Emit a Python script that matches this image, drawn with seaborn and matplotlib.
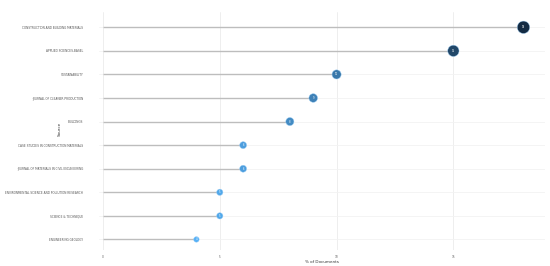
import numpy as np
import matplotlib.pyplot as plt
import pandas as pd
import seaborn as sns
from matplotlib.colors import LinearSegmentedColormap

# Daten
sources = ['CONSTRUCTION AND BUILDING MATERIALS', 'APPLIED SCIENCES-BASEL', 'SUSTAINABILITY',
           'JOURNAL OF CLEANER PRODUCTION', 'BUILDINGS', 'CASE STUDIES IN CONSTRUCTION MATERIALS',
           'JOURNAL OF MATERIALS IN CIVIL ENGINEERING', 'ENVIRONMENTAL SCIENCE AND POLLUTION RESEARCH',
           'SCIENCE & TECHNIQUE', 'ENGINEERING GEOLOGY']
percent = [18, 15, 10, 9, 8, 6, 6, 5, 5, 4]
x_ticks = [0, 5, 10, 15]

df = pd.DataFrame({'Source': sources, 'Percent': percent})

sns.set_theme(style='white')
plt.rcParams['font.family'] = ['DejaVu Sans']

fig = plt.figure(figsize=(5.5, 2.66), dpi=100)
ax = fig.add_axes([0.18, 0.06, 0.81, 0.895])

# Gitter
for t in x_ticks:
    ax.axvline(t, color='#EBEBEB', lw=0.6, zorder=0)
for i in range(len(sources)):
    ax.axhline(i, color='#F2F2F2', lw=0.6, zorder=0)

# Stiele
ax.hlines(y=np.arange(len(sources)), xmin=0, xmax=df['Percent'], color='#BDBDBD', lw=1.0, zorder=1)

cmap = LinearSegmentedColormap.from_list('blues', ['#56B1F7', '#132B43'])
sns.scatterplot(data=df, x='Percent', y='Source', hue='Percent', size='Percent',
                palette=cmap, hue_norm=(4, 18), sizes=(16, 80), size_norm=(4, 18),
                edgecolor='#9FCFF5', linewidth=0.3, legend=False, ax=ax, zorder=3)

for i, v in enumerate(percent):
    ax.text(v, i, str(v), color='white', fontsize=1.8, ha='center', va='center', zorder=4)

ax.set_xlim(-0.17, 18.9)
ax.set_ylim(9.45, -0.65)
ax.set_xticks(x_ticks)
ax.set_xticklabels([str(t) for t in x_ticks])
ax.tick_params(axis='both', length=0, labelsize=2.1, labelcolor='#555555')
ax.tick_params(axis='x', pad=3.5)
ax.tick_params(axis='y', pad=11.5)
for s in ax.spines.values():
    s.set_visible(False)

ax.set_xlabel('% of Documents', fontsize=3.0, color='#333333', labelpad=1)
ax.set_ylabel('Source', fontsize=3.0, color='#333333')
ax.yaxis.set_label_coords(-0.083, 0.51)

plt.savefig('out.png', dpi=100)
